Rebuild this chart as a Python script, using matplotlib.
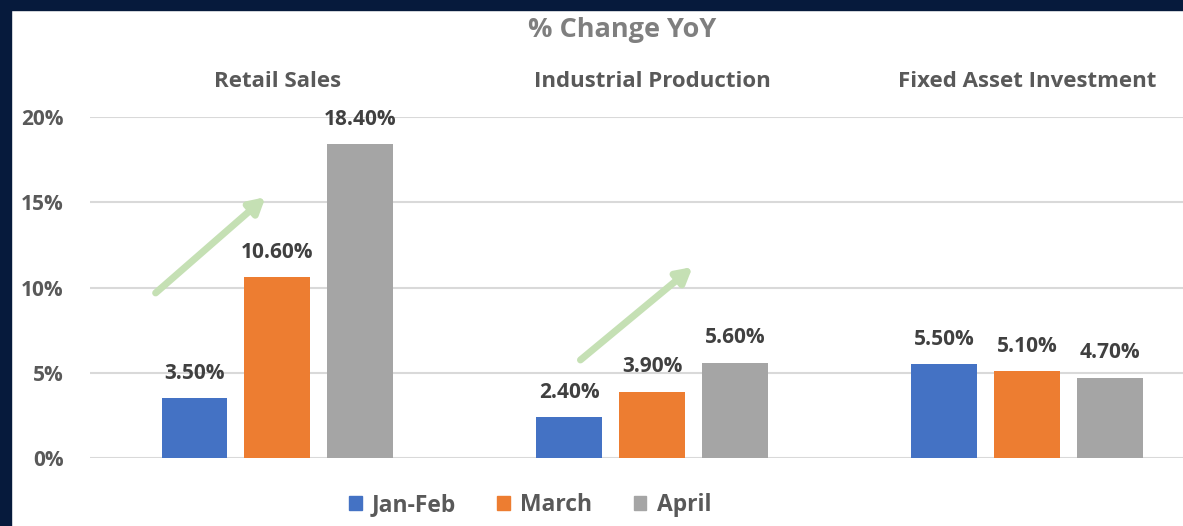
import numpy as np
import matplotlib.pyplot as plt
from matplotlib.patches import Patch, Rectangle

# data
groups = ['Retail Sales', 'Industrial Production', 'Fixed Asset Investment']
series = ['Jan-Feb', 'March', 'April']
jan_feb = [3.5, 2.4, 5.5]
march = [10.6, 3.9, 5.1]
april = [18.4, 5.6, 4.7]
yticks = [0, 5, 10, 15, 20]

colors = ['#4472C4', '#ED7D31', '#A5A5A5']
font = 'Open Sans'

fig = plt.figure(figsize=(11.83, 5.26), dpi=100)
fig.patch.set_facecolor('white')

# dark frame along top and left edges
fig.patches.append(Rectangle((0, 1 - 10 / 526), 1, 10 / 526, transform=fig.transFigure,
                             color='#061a3c', zorder=0))
fig.patches.append(Rectangle((0, 0), 11 / 1183, 1, transform=fig.transFigure,
                             color='#061a3c', zorder=0))

ax = fig.add_axes([90 / 1183, 1 - 458 / 526, 1093 / 1183, 341 / 526])

x = np.arange(len(groups))
width = 0.176
step = 0.2213
for k, (name, vals) in enumerate(zip(series, [jan_feb, march, april])):
    bars = ax.bar(x + (k - 1) * step, vals, width, color=colors[k], label=name, zorder=3)
    for b, v in zip(bars, vals):
        ax.annotate(f'{v:.2f}%', (b.get_x() + b.get_width() / 2, v), xytext=(0, 18),
                    textcoords='offset points', ha='center', va='center',
                    fontsize=15, fontweight='bold', color='#404040', family=font)

ax.set_xlim(-0.5, 2.415)
ax.set_ylim(0, 20)
ax.set_yticks(yticks)
ax.set_yticklabels([f'{t}%' for t in yticks], fontsize=15, fontweight='bold',
                   color='#595959', family=font)
ax.tick_params(axis='y', length=0, pad=19)
ax.set_xticks([])
ax.grid(axis='y', color='#d9d9d9', lw=1.5, zorder=0)
for s in ax.spines.values():
    s.set_visible(False)

# group headers above the plot
for i, g in enumerate(groups):
    ax.text(i, 22.1, g, ha='center', va='center', fontsize=16, fontweight='bold',
            color='#595959', family=font)

# green trend arrows
arrow_kw = dict(arrowstyle='-|>,head_length=0.9,head_width=0.5', color='#c5e0b4', lw=5,
                shrinkA=0, shrinkB=0)
ax.annotate('', xy=(-0.032, 15.3), xytext=(-0.325, 9.68), arrowprops=arrow_kw, zorder=4)
ax.annotate('', xy=(1.107, 11.2), xytext=(0.808, 5.75), arrowprops=arrow_kw, zorder=4)

fig.text(622 / 1183, 1 - 30 / 526, '% Change YoY', ha='center', va='center', fontsize=19.5,
         fontweight='bold', color='#7f7f7f', family=font)

handles = [Patch(color=c, label=s) for c, s in zip(colors, series)]
leg = fig.legend(handles=handles, loc='center', bbox_to_anchor=(530 / 1183, 1 - 505 / 526),
                 ncol=3, frameon=False, handlelength=0.55, handleheight=0.55,
                 handletextpad=0.45, columnspacing=1.8,
                 prop={'family': font, 'weight': 'bold', 'size': 16.5})
for t in leg.get_texts():
    t.set_color('#595959')

fig.savefig('out.png', dpi=100, facecolor=fig.get_facecolor())
